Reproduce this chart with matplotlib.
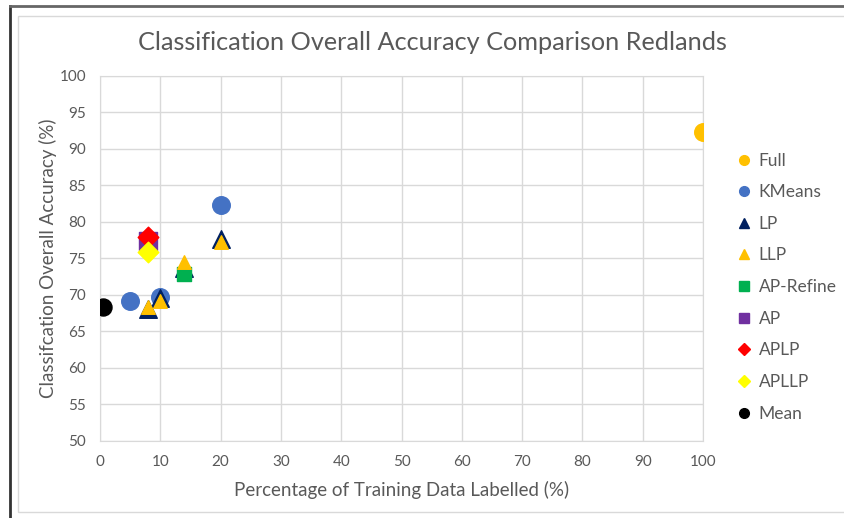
import matplotlib
matplotlib.use("Agg")
import matplotlib.pyplot as plt
from matplotlib.lines import Line2D
from matplotlib.patches import Rectangle

plt.rcParams['font.family'] = ['Lato', 'DejaVu Sans']

# data
full_x = [100]
full_y = [92.3]
kmeans_x = [5, 10, 20]
kmeans_y = [69.1, 69.7, 82.3]
lp_x = [8, 10, 14, 20]
lp_y = [68.0, 69.5, 73.6, 77.6]
llp_x = [8, 10, 14, 20]
llp_y = [68.3, 69.2, 74.5, 77.2]
aprefine_x = [14]
aprefine_y = [72.8]
ap_x = [8]
ap_y = [77.3]
aplp_x = [8]
aplp_y = [77.9]
apllp_x = [8]
apllp_y = [75.9]
mean_x = [0.5]
mean_y = [68.3]

W, H = 844, 518
fig = plt.figure(figsize=(W / 100, H / 100), dpi=100)
ax = fig.add_axes([100 / W, 1 - 440.7 / H, 603 / W, 365 / H])

grid = '#d9d9d9'
txt = '#595959'

ax.scatter(full_x, full_y, s=160, marker='o', color='#ffc000', label='Full', zorder=3)
ax.scatter(kmeans_x, kmeans_y, s=160, marker='o', color='#4472c4', label='KMeans', zorder=3)
ax.scatter(lp_x, lp_y, s=160, marker='^', color='#002060', label='LP', zorder=3)
ax.scatter(llp_x, llp_y, s=95, marker='^', color='#ffc000', label='LLP', zorder=4)
ax.scatter(aprefine_x, aprefine_y, s=110, marker='s', color='#00b050', label='AP-Refine', zorder=3)
ax.scatter(ap_x, ap_y, s=150, marker='s', color='#7030a0', label='AP', zorder=3)
ax.scatter(aplp_x, aplp_y, s=110, marker='D', color='#ff0000', label='APLP', zorder=4)
ax.scatter(apllp_x, apllp_y, s=110, marker='D', color='#ffff00', label='APLLP', zorder=4)
ax.scatter(mean_x, mean_y, s=150, marker='o', color='#000000', label='Mean', zorder=3)

ax.set_xlim(0, 100)
ax.set_ylim(50, 100)
ax.set_xticks(range(0, 101, 10))
ax.set_yticks(range(50, 101, 5))
ax.grid(True, color=grid, linewidth=1)
ax.set_axisbelow(True)
for s in ax.spines.values():
    s.set_color(grid)
ax.tick_params(length=0, colors=txt, labelsize=11, pad=10)

ax.set_xlabel('Percentage of Training Data Labelled (%)', fontsize=13.5, color=txt, labelpad=9)
ax.set_ylabel('Classifcation Overall Accuracy (%)', fontsize=13.5, color=txt, labelpad=2)
fig.text(432 / W, 1 - 43 / H, 'Classification Overall Accuracy Comparison Redlands',
         ha='center', va='center', fontsize=18.2, color=txt)

handles = [
    Line2D([], [], ls='', marker='o', color='#ffc000', ms=7),
    Line2D([], [], ls='', marker='o', color='#4472c4', ms=7),
    Line2D([], [], ls='', marker='^', color='#002060', ms=7),
    Line2D([], [], ls='', marker='^', color='#ffc000', ms=7),
    Line2D([], [], ls='', marker='s', color='#00b050', ms=7),
    Line2D([], [], ls='', marker='s', color='#7030a0', ms=7),
    Line2D([], [], ls='', marker='D', color='#ff0000', ms=6),
    Line2D([], [], ls='', marker='D', color='#ffff00', ms=6),
    Line2D([], [], ls='', marker='o', color='#000000', ms=7),
]
labels = ['Full', 'KMeans', 'LP', 'LLP', 'AP-Refine', 'AP', 'APLP', 'APLLP', 'Mean']
leg = fig.legend(handles, labels, loc='upper left', bbox_to_anchor=(718 / W, 1 - 137 / H),
                 frameon=False, fontsize=12.5, labelspacing=0.9, handletextpad=0.25,
                 handlelength=1.2, labelcolor=txt)

# chart frame borders
fig.add_artist(Line2D([9.5 / W, 9.5 / W], [0, 1 - 6 / H], color='#333333', lw=2,
                      transform=fig.transFigure))
fig.add_artist(Line2D([9.5 / W, 1], [1 - 6 / H, 1 - 6 / H], color='#666666', lw=2,
                      transform=fig.transFigure))
fig.add_artist(Rectangle((18 / W, 1 - 512 / H), 1, (512 - 16) / H, fill=False,
                         edgecolor='#d9d9d9', lw=1, transform=fig.transFigure))

fig.savefig('out.png', dpi=100)
